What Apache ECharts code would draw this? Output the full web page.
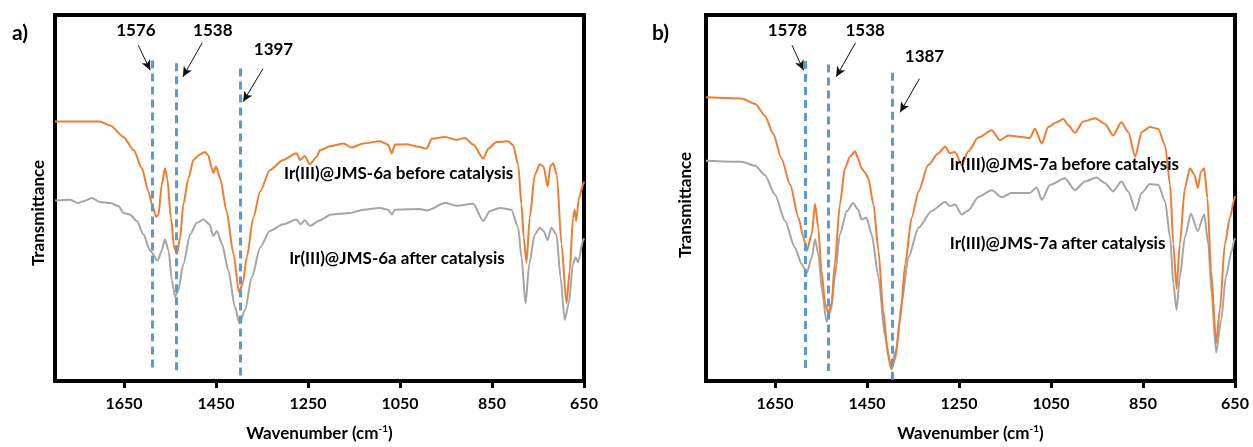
<!DOCTYPE html>
<html>
<head>
<meta charset="utf-8">
<script src="https://cdn.jsdelivr.net/npm/echarts@6/dist/echarts.min.js"></script>
<style>
html,body{margin:0;padding:0;background:#fff;}
#chart{width:1253px;height:447px;}
</style>
</head>
<body>
<div id="chart"></div>
<script>
// ---- data (wavenumber cm-1, transmittance in arbitrary units) ----
var tickValues = [650, 850, 1050, 1250, 1450, 1650];

var aBefore = [[1800,70.9],[1702,70.9],[1680,69.8],[1651,66.7],[1629,63.1],[1611,58.1],[1597,51.8],[1589,48.2],[1580,44.8],[1575,45.5],[1568,53.6],[1561,58.1],[1556,55.4],[1548,44.6],[1541,36.5],[1535,34.7],[1528,39.2],[1521,48.2],[1510,55.4],[1499,60.4],[1485,61.9],[1474,62.6],[1467,61.7],[1459,58.1],[1456,56.8],[1450,58.6],[1441,55.4],[1427,46.4],[1412,34.7],[1400,24.3],[1392,26.6],[1383,33.8],[1369,44.6],[1354,51.8],[1333,57.6],[1304,60.4],[1275,62.2],[1267,60.4],[1257,61.5],[1246,59.2],[1231,61.3],[1224,63.1],[1200,64.2],[1173,64.9],[1155,63.8],[1130,64.9],[1094,65.5],[1076,64.6],[1068,62.2],[1061,64.6],[1036,64.7],[1010,64.0],[992,63.5],[981,66.2],[952,66.7],[927,65.9],[909,66.4],[891,64.6],[869,60.8],[858,63.5],[840,65.3],[815,65.5],[804,64.4],[793,59.0],[786,48.2],[781,39.2],[775,32.4],[768,44.6],[757,56.3],[746,59.2],[738,58.6],[729,53.2],[723,58.8],[717,59.5],[709,56.3],[699,37.4],[688,21.2],[681,30.2],[674,44.6],[670,46.8],[667,43.7],[661,50.0],[652,53.6],[650,54.5]];

var aAfter = [[1800,49.3],[1767,49.5],[1750,48.6],[1738,49.1],[1720,50.0],[1702,48.9],[1680,48.6],[1662,47.8],[1651,45.9],[1637,45.5],[1622,43.7],[1608,40.1],[1593,35.6],[1577,32.9],[1568,35.6],[1561,38.7],[1553,35.6],[1546,27.5],[1539,23.0],[1532,24.8],[1521,32.0],[1506,40.1],[1492,43.2],[1477,44.1],[1464,42.8],[1456,39.6],[1448,41.0],[1437,37.4],[1423,30.2],[1409,20.3],[1399,15.8],[1387,19.4],[1372,28.4],[1354,36.5],[1333,41.0],[1304,42.8],[1275,44.1],[1266,42.8],[1257,43.9],[1246,42.4],[1224,43.9],[1200,45.5],[1159,45.9],[1130,46.8],[1094,47.3],[1076,46.8],[1068,45.5],[1061,46.8],[1007,47.0],[992,46.6],[952,48.6],[927,47.9],[891,48.4],[869,43.7],[855,46.4],[833,47.3],[808,46.8],[793,41.9],[786,33.8],[777,21.2],[769,32.0],[757,40.1],[746,41.9],[738,41.0],[729,38.5],[721,41.9],[710,40.1],[701,28.4],[692,16.7],[683,21.2],[674,32.0],[668,33.8],[663,32.4],[652,38.3],[650,39.0]];

var bBefore = [[1800,77.5],[1723,77.2],[1693,75.7],[1672,72.5],[1654,67.6],[1636,60.8],[1617,53.6],[1599,44.6],[1588,39.2],[1581,35.6],[1570,40.1],[1563,48.4],[1556,41.9],[1549,30.2],[1541,21.2],[1534,18.6],[1527,21.2],[1520,32.0],[1509,48.2],[1498,58.1],[1487,61.3],[1476,62.8],[1469,60.8],[1462,58.1],[1454,56.9],[1447,55.4],[1436,48.2],[1425,35.6],[1415,19.4],[1404,6.8],[1397,3.2],[1389,5.9],[1378,16.7],[1367,32.0],[1353,44.6],[1338,51.8],[1317,59.0],[1295,62.2],[1280,64.1],[1270,62.2],[1259,62.6],[1244,59.0],[1230,62.7],[1208,66.5],[1179,68.5],[1161,65.8],[1143,67.1],[1114,66.7],[1096,66.4],[1085,68.9],[1070,64.9],[1056,69.4],[1038,70.7],[1023,71.6],[1012,69.8],[998,67.8],[980,70.9],[954,71.8],[933,70.3],[915,67.1],[897,70.7],[882,68.0],[867,61.3],[853,68.0],[835,69.4],[817,68.9],[802,64.4],[791,53.6],[784,37.4],[777,25.2],[770,37.4],[759,52.7],[748,58.1],[738,56.3],[731,52.7],[724,57.2],[717,58.1],[710,50.0],[702,30.2],[691,10.4],[683,19.4],[672,37.4],[661,44.6],[652,49.5],[650,50.5]];

var bAfter = [[1800,60.2],[1723,59.9],[1693,58.8],[1672,56.3],[1650,50.9],[1628,43.7],[1607,36.5],[1592,32.0],[1581,29.5],[1570,33.8],[1563,38.7],[1556,34.7],[1547,23.9],[1538,16.2],[1528,19.4],[1520,28.4],[1509,40.1],[1494,46.4],[1480,48.6],[1469,46.8],[1462,44.1],[1451,44.6],[1440,40.1],[1425,28.4],[1411,12.2],[1398,4.1],[1386,8.6],[1375,21.2],[1360,33.8],[1338,41.9],[1310,46.4],[1280,48.9],[1270,47.8],[1259,48.2],[1244,45.5],[1230,46.6],[1208,50.3],[1179,52.1],[1157,50.2],[1136,51.4],[1096,51.4],[1081,52.9],[1070,49.5],[1052,53.6],[1020,55.4],[998,52.2],[976,54.5],[951,55.6],[933,54.1],[915,51.8],[897,54.5],[882,51.8],[866,46.6],[853,51.4],[835,53.8],[817,53.6],[802,49.1],[791,39.2],[784,26.6],[777,19.4],[770,28.4],[759,39.2],[746,45.7],[731,41.0],[717,45.5],[708,37.4],[701,23.9],[691,7.8],[680,16.7],[670,28.4],[657,35.6],[652,38.3],[650,39.0]];

// peak marker lines: [wavenumber, top, bottom]
var aPeakLines = [[1588,87.6,2.7],[1537,86.8,2.7],[1398,85.4,1.4]];
var bPeakLines = [[1585,87.4,2.7],[1535,86.5,2.7],[1396,84.2,0.0]];
// peak labels: [text, wavenumber, level]
var aPeakLabels = [['1576',1624,95.7],['1538',1457,95.7],['1397',1325,90.5]];
var bPeakLabels = [['1578',1623,95.7],['1538',1454,95.7],['1387',1325,88.7]];
// arrows: [fromX, fromY, toX, toY]
var aArrows = [[1619,91.7,1593,84.9],[1480,92.4,1522,83.1],[1348,85.3,1391,76.3]];
var bArrows = [[1613,91.7,1588,84.9],[1475,92.4,1517,83.1],[1336,82.6,1378,73.4]];
// series name labels: [text, wavenumber, level]
var aNames = [['Ir(III)@JMS-6a before catalysis',1302,56.6],['Ir(III)@JMS-6a after catalysis',1291,33.5]];
var bNames = [['Ir(III)@JMS-7a before catalysis',1270,59.1],['Ir(III)@JMS-7a after catalysis',1270,37.6]];

// ---- chart ----
var FONT = 'Lato';
var ORANGE = '#ED7D31', GRAY = '#A5A5A5', BLUE = '#5B9BD5';
var chart = echarts.init(document.getElementById('chart'), null, {renderer:'canvas'});

function xAxisFor(g) {
  return {
    gridIndex: g, type: 'value', min: 650, max: 1800, inverse: true,
    axisLine: {show: false},
    axisTick: {show: true, customValues: tickValues, length: 7, lineStyle: {color: '#000', width: 3}},
    axisLabel: {customValues: tickValues, formatter: function (v) { return String(v); },
      fontFamily: FONT, fontWeight: 'bold', fontSize: 16, color: '#000', margin: 15},
    splitLine: {show: false},
    name: '{n|Wavenumber (cm}{s|-1}{n|)}',
    nameLocation: 'middle', nameGap: 43,
    nameTextStyle: {rich: {
      n: {fontFamily: FONT, fontWeight: 'bold', fontSize: 17, color: '#000', lineHeight: 19},
      s: {fontFamily: FONT, fontWeight: 'bold', fontSize: 10, color: '#000', verticalAlign: 'top', lineHeight: 19}
    }}
  };
}
function yAxisFor(g, gap, shift) {
  return {
    gridIndex: g, type: 'value', min: 0, max: 100,
    axisLine: {show: false}, axisTick: {show: false}, axisLabel: {show: false}, splitLine: {show: false},
    name: 'Transmittance', nameLocation: 'middle', nameGap: gap,
    nameTextStyle: {fontFamily: FONT, fontWeight: 'bold', fontSize: 17, color: '#000', padding: [0, shift, 0, 0]}
  };
}
function curve(data, color, g, z) {
  return {
    type: 'line', data: data, xAxisIndex: g, yAxisIndex: g, z: z,
    showSymbol: false, symbol: 'none', smooth: 0.25, smoothMonotone: 'x',
    lineStyle: {color: color, width: 2}, silent: true
  };
}
function annotations(g, lines, labels, arrows, names) {
  var dashed = lines.map(function (l) {
    return [{coord: [l[0], l[1]]}, {coord: [l[0], l[2]]}];
  });
  var arr = arrows.map(function (a) {
    return [{coord: [a[0], a[1]], symbol: 'none'}, {coord: [a[2], a[3]], symbol: 'arrow', symbolSize: [7, 10]}];
  });
  var pts = labels.map(function (t) {
    return {name: t[0], coord: [t[1], t[2]], label: {position: 'inside', fontSize: 17}};
  }).concat(names.map(function (t) {
    return {name: t[0], coord: [t[1], t[2]], label: {position: 'right', distance: 0, align: 'left', fontSize: 17}};
  }));
  return [
    {type: 'line', data: [], xAxisIndex: g, yAxisIndex: g, z: 6, silent: true,
     markLine: {silent: true, symbol: ['none', 'none'], label: {show: false},
       lineStyle: {color: BLUE, width: 3, type: [8, 5]}, data: dashed, animation: false}},
    {type: 'line', data: [], xAxisIndex: g, yAxisIndex: g, z: 7, silent: true,
     markLine: {silent: true, symbol: ['none', 'arrow'], label: {show: false},
       lineStyle: {color: '#111', width: 1, type: 'solid'}, itemStyle: {color: '#111'}, data: arr, animation: false}},
    {type: 'line', data: [], xAxisIndex: g, yAxisIndex: g, z: 8, silent: true,
     markPoint: {silent: true, symbol: 'circle', symbolSize: 0, animation: false,
       label: {show: true, formatter: '{b}', fontFamily: FONT, fontWeight: 'bold', color: '#000'},
       data: pts}}
  ];
}

var option = {
  animation: false,
  backgroundColor: '#fff',
  grid: [
    {left: 55, top: 15, width: 529, height: 370, show: true, borderColor: '#000', borderWidth: 4, backgroundColor: 'transparent'},
    {left: 706, top: 15, width: 529, height: 370, show: true, borderColor: '#000', borderWidth: 4, backgroundColor: 'transparent'}
  ],
  xAxis: [xAxisFor(0), xAxisFor(1)],
  yAxis: [yAxisFor(0, 8, 30), yAxisFor(1, 12, 14)],
  graphic: [
    {type: 'text', left: 12, top: 23, style: {text: 'a)', font: 'bold 21px Lato', fill: '#000'}},
    {type: 'text', left: 652, top: 23, style: {text: 'b)', font: 'bold 21px Lato', fill: '#000'}}
  ],
  series: [
    curve(aAfter, GRAY, 0, 2), curve(aBefore, ORANGE, 0, 3),
    curve(bAfter, GRAY, 1, 2), curve(bBefore, ORANGE, 1, 3)
  ].concat(annotations(0, aPeakLines, aPeakLabels, aArrows, aNames))
   .concat(annotations(1, bPeakLines, bPeakLabels, bArrows, bNames))
};
chart.setOption(option);
</script>
</body>
</html>
